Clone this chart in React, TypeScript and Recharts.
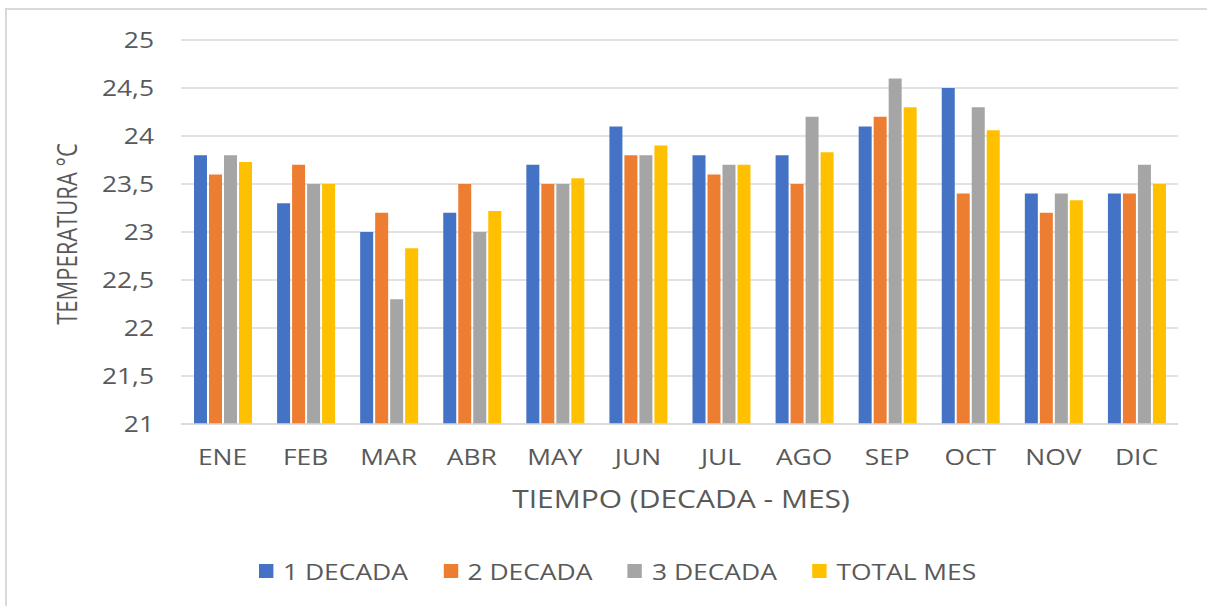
import React from 'react';
import { BarChart, Bar, XAxis, YAxis, CartesianGrid, Legend } from 'recharts';

const months = ['ENE', 'FEB', 'MAR', 'ABR', 'MAY', 'JUN', 'JUL', 'AGO', 'SEP', 'OCT', 'NOV', 'DIC'];
const decada1 = [23.8, 23.3, 23.0, 23.2, 23.7, 24.1, 23.8, 23.8, 24.1, 24.5, 23.4, 23.4];
const decada2 = [23.6, 23.7, 23.2, 23.5, 23.5, 23.8, 23.6, 23.5, 24.2, 23.4, 23.2, 23.4];
const decada3 = [23.8, 23.5, 22.3, 23.0, 23.5, 23.8, 23.7, 24.2, 24.6, 24.3, 23.4, 23.7];
const totalMes = [23.73, 23.5, 22.83, 23.22, 23.56, 23.9, 23.7, 23.83, 24.3, 24.06, 23.33, 23.5];
const yTicks = [21, 21.5, 22, 22.5, 23, 23.5, 24, 24.5, 25];

const seriesNames = ['1 DECADA', '2 DECADA', '3 DECADA', 'TOTAL MES'];
const seriesKeys = ['d1', 'd2', 'd3', 'total'];
const seriesColors = ['#4472C4', '#ED7D31', '#A5A5A5', '#FFC000'];

const data = months.map((m, i) => ({
  month: m,
  d1: decada1[i],
  d2: decada2[i],
  d3: decada3[i],
  total: totalMes[i],
}));

const FONT = '"Open Sans", sans-serif';
const TEXT = '#595959';
const SX = 1.2;

const fmt = (v: number) => String(v).replace('.', ',');

const LegendContent = () => (
  <div
    style={{
      display: 'flex',
      alignItems: 'center',
      fontFamily: FONT,
      fontSize: 22,
      color: TEXT,
      transform: `scaleX(${SX})`,
      transformOrigin: 'left center',
      whiteSpace: 'nowrap',
    }}
  >
    {seriesNames.map((n, i) => (
      <div key={n} style={{ display: 'flex', alignItems: 'center', marginRight: 29.6 }}>
        <div style={{ width: 12, height: 14, background: seriesColors[i], marginRight: 8 }} />
        <span>{n}</span>
      </div>
    ))}
  </div>
);

const XTick = (props: any) => {
  const { x, y, payload } = props;
  return (
    <text
      x={0}
      y={0}
      dy={16}
      transform={`translate(${x}, ${y}) scale(${SX}, 1)`}
      textAnchor="middle"
      fill={TEXT}
      fontFamily={FONT}
      fontSize={22}
    >
      {payload.value}
    </text>
  );
};

const YTick = (props: any) => {
  const { x, y, payload } = props;
  return (
    <text
      x={0}
      y={0}
      dy="0.355em"
      transform={`translate(${x}, ${y}) scale(${SX}, 1)`}
      textAnchor="end"
      fill={TEXT}
      fontFamily={FONT}
      fontSize={22}
    >
      {fmt(payload.value)}
    </text>
  );
};

const YTitle = () => (
  <text
    x={0}
    y={0}
    transform={`translate(77, 234) scale(${SX}, 1) rotate(-90)`}
    textAnchor="middle"
    fill={TEXT}
    fontFamily={FONT}
    fontSize={22}
  >
    TEMPERATURA °C
  </text>
);

const XTitle = () => (
  <text
    x={0}
    y={0}
    transform={`translate(681, 508) scale(${SX}, 1)`}
    textAnchor="middle"
    fill={TEXT}
    fontFamily={FONT}
    fontSize={25}
  >
    TIEMPO (DECADA - MES)
  </text>
);

export default function App() {
  return (
    <div style={{ position: 'absolute', left: 0, top: 0, width: 1207, height: 606, overflow: 'hidden', background: '#fff' }}>
      <div
        style={{
          position: 'absolute',
          left: 5,
          top: 8,
          width: 1230,
          height: 640,
          border: '2px solid #D9D9D9',
          boxSizing: 'border-box',
        }}
      />
      <div style={{ position: 'absolute', left: 0, top: 0 }}>
        <BarChart
          width={1207}
          height={606}
          data={data}
          margin={{ top: 40, right: 29, bottom: 0, left: 0 }}
          barSize={13}
          barGap={2}
        >
          <CartesianGrid vertical={false} stroke="#D9D9D9" strokeWidth={1.5} />
          <XAxis
            dataKey="month"
            height={182}
            axisLine={{ stroke: '#D9D9D9', strokeWidth: 1.5 }}
            tickLine={false}
            tickSize={0}
            tickMargin={25}
            tick={<XTick />}
            label={<XTitle />}
          />
          <YAxis
            width={181}
            domain={[21, 25]}
            ticks={yTicks}
            interval={0}
            axisLine={false}
            tickLine={false}
            tickSize={0}
            tickMargin={27}
            tick={<YTick />}
            label={<YTitle />}
          />
          <Legend
            layout="horizontal"
            verticalAlign="middle"
            align="center"
            content={<LegendContent />}
            wrapperStyle={{ position: 'absolute', top: 556, left: 259, width: 900, height: 30 }}
          />
          {seriesKeys.map((k, i) => (
            <Bar key={k} dataKey={k} name={seriesNames[i]} fill={seriesColors[i]} isAnimationActive={false} />
          ))}
        </BarChart>
      </div>
    </div>
  );
}
